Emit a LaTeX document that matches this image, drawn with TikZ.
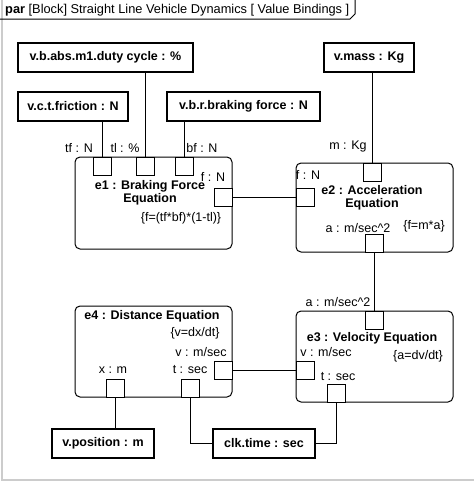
\documentclass[tikz,border=0pt]{standalone}
\usepackage{fontspec}
\setmainfont{Liberation Sans}
\newcommand{\portSize}{18pt}
\newcommand{\blockWidth}{157pt}
\newcommand{\valueHeight}{29pt}
\newcommand{\diagFont}{\fontsize{12.5}{13}\selectfont}
\tikzset{
  valuebox/.style={draw, line width=1.2pt, minimum height=\valueHeight, inner sep=0pt, font=\diagFont\bfseries},
  eqblock/.style={draw, line width=1pt, rounded corners=5pt, minimum width=\blockWidth, inner sep=0pt},
  port/.style={draw, fill=white, line width=1pt, minimum size=\portSize, inner sep=0pt},
  lbl/.style={inner sep=0pt, font=\diagFont},
  ttl/.style={inner sep=0pt, align=center, font=\diagFont\bfseries},
  wire/.style={line width=1pt},
}
\begin{document}
\begin{tikzpicture}[x=1pt, y=-1pt]
\useasboundingbox (0,0) rectangle (474,482);
% frame
\draw[gray!40, line width=1.5pt] (2,0) -- (2,480) -- (474,480);
\draw[line width=1pt] (0,19) -- (350,19) -- (355,14) -- (355,0);
\node[lbl, anchor=west, font=\fontsize{12.8}{14}\selectfont] (frametitle) at (5,10) {\textbf{par} [Block] Straight Line Vehicle Dynamics [ Value Bindings ]};

% value properties
\node[valuebox, minimum width=175pt] (duty) at (105.5,57.5) {v.b.abs.m1.duty cycle : \%};
\node[valuebox, minimum width=110pt] (fric) at (73,106.5) {v.c.t.friction : N};
\node[valuebox, minimum width=153pt] (brake) at (243.5,106.5) {v.b.r.braking force : N};
\node[valuebox, minimum width=90pt] (mass) at (369,57.5) {v.mass : Kg};
\node[valuebox, minimum width=102pt] (pos) at (103,443.5) {v.position : m};
\node[valuebox, minimum width=102pt] (clk) at (264,443.5) {clk.time : sec};

% equation blocks
\node[eqblock, minimum height=92pt] (e1) at (153.5,203) {};
\node[eqblock, minimum height=89pt] (e2) at (374.5,207.5) {};
\node[eqblock, minimum height=91pt] (e3) at (374.5,356.5) {};
\node[eqblock, minimum height=91pt] (e4) at (153.5,351.5) {};

\node[ttl] (e1name) at (150,193) {e1 : Braking Force\\Equation};
\node[lbl] (e1con) at (181,218) {\{f=(tf*bf)*(1-tl)\}};
\node[ttl] (e2name) at (372,198) {e2 : Acceleration\\Equation};
\node[lbl] (e2con) at (424,226) {\{f=m*a\}};
\node[ttl] (e3name) at (372,338) {e3 : Velocity Equation};
\node[lbl] (e3con) at (418,356) {\{a=dv/dt\}};
\node[ttl] (e4name) at (152,316) {e4 : Distance Equation};
\node[lbl] (e4con) at (195,333) {\{v=dx/dt\}};

% ports
\node[port] (e1tf) at (102.5,166) {};
\node[port] (e1tl) at (145.5,166) {};
\node[port] (e1bf) at (184,166) {};
\node[port] (e1f) at (223,197.5) {};
\node[port] (e2m) at (372,172) {};
\node[port] (e2f) at (305,197.5) {};
\node[port] (e2a) at (374.5,243.5) {};
\node[port] (e3a) at (374.5,320) {};
\node[port] (e3v) at (305,370) {};
\node[port] (e3t) at (336.5,393.5) {};
\node[port] (e4v) at (223,370) {};
\node[port] (e4x) at (115.5,388.5) {};
\node[port] (e4t) at (190.5,388.5) {};

% port labels
\node[lbl] (tflbl) at (79,148) {tf : N};
\node[lbl] (tllbl) at (125,148) {tl : \%};
\node[lbl] (bflbl) at (202,148) {bf : N};
\node[lbl] (e1flbl) at (213,177) {f : N};
\node[lbl] (mlbl) at (348,146) {m : Kg};
\node[lbl] (e2flbl) at (308,175) {f : N};
\node[lbl] (e2albl) at (358,228) {a : m/sec\^{}2};
\node[lbl] (e3albl) at (338,302) {a : m/sec\^{}2};
\node[lbl] (e3vlbl) at (326,352) {v : m/sec};
\node[lbl] (e3tlbl) at (338,377) {t : sec};
\node[lbl] (e4vlbl) at (201,352) {v : m/sec};
\node[lbl] (xlbl) at (113,370) {x : m};
\node[lbl] (e4tlbl) at (190,370) {t : sec};

% bindings
\draw[wire] (e1tf.north) -- (e1tf.north |- fric.south);
\draw[wire] (e1tl.north) -- (e1tl.north |- duty.south);
\draw[wire] (e1bf.north) -- (e1bf.north |- brake.south);
\draw[wire] (e2m.north) -- (e2m.north |- mass.south);
\draw[wire] (e1f.east) -- (e2f.west);
\draw[wire] (e2a.south) -- (e3a.north);
\draw[wire] (e4v.east) -- (e3v.west);
\draw[wire] (e4x.south) -- (e4x.south |- pos.north);
\draw[wire] (e4t.south) |- (clk.west);
\draw[wire] (clk.east) -| (e3t.south);
\end{tikzpicture}
\end{document}
